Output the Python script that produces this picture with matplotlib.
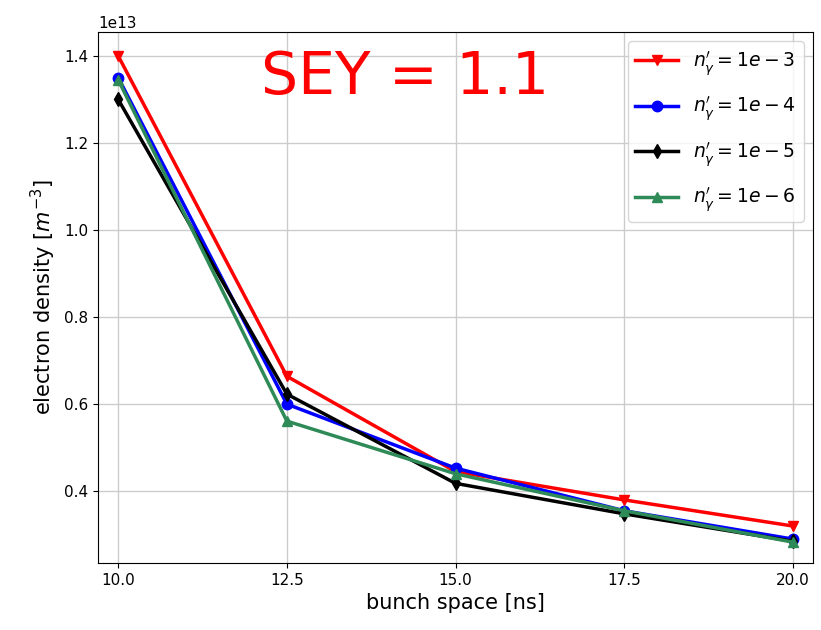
import matplotlib
matplotlib.use("Agg")
import matplotlib.pyplot as plt

bunch_space = [10.0, 12.5, 15.0, 17.5, 20.0]
n3 = [1.40e13, 0.664e13, 0.445e13, 0.38e13, 0.32e13]
n4 = [1.35e13, 0.60e13, 0.453e13, 0.355e13, 0.29e13]
n5 = [1.30e13, 0.623e13, 0.418e13, 0.348e13, 0.285e13]
n6 = [1.345e13, 0.561e13, 0.44e13, 0.355e13, 0.283e13]
labels = [r"$n_\gamma^{\prime} = 1e-3$", r"$n_\gamma^{\prime} = 1e-4$",
          r"$n_\gamma^{\prime} = 1e-5$", r"$n_\gamma^{\prime} = 1e-6$"]

fig = plt.figure(figsize=(8.21, 6.3), dpi=100)
ax = fig.add_axes([98/821, 1-563/630, (813-98)/821, (563-32)/630])
lw = 2.5
ms = 7.5
ax.plot(bunch_space, n3, color="red", marker="v", lw=lw, ms=ms, label=labels[0])
ax.plot(bunch_space, n4, color="blue", marker="o", lw=lw, ms=ms, label=labels[1])
ax.plot(bunch_space, n5, color="black", marker="d", lw=lw, ms=ms, label=labels[2])
ax.plot(bunch_space, n6, color="seagreen", marker="^", lw=lw, ms=ms, label=labels[3])

ax.set_xlim(9.7, 20.3)
ax.set_ylim(0.235e13, 1.455e13)
ax.set_xticks([10.0, 12.5, 15.0, 17.5, 20.0])
ax.set_yticks([0.4e13, 0.6e13, 0.8e13, 1.0e13, 1.2e13, 1.4e13])
ax.grid(True, color="#cccccc", lw=1)
ax.tick_params(labelsize=11)
ax.yaxis.get_offset_text().set_fontsize(11)
ax.set_xlabel("bunch space [ns]", fontsize=15)
ax.set_ylabel(r"electron density [$m^{-3}$]", fontsize=15)
ax.legend(loc="upper right", fontsize=13.5, handlelength=2.3, labelspacing=0.9)
ax.text(0.43, 0.915, "SEY = 1.1", transform=ax.transAxes, color="red",
        fontsize=42, ha="center", va="center")
fig.savefig("out.png", dpi=100)
